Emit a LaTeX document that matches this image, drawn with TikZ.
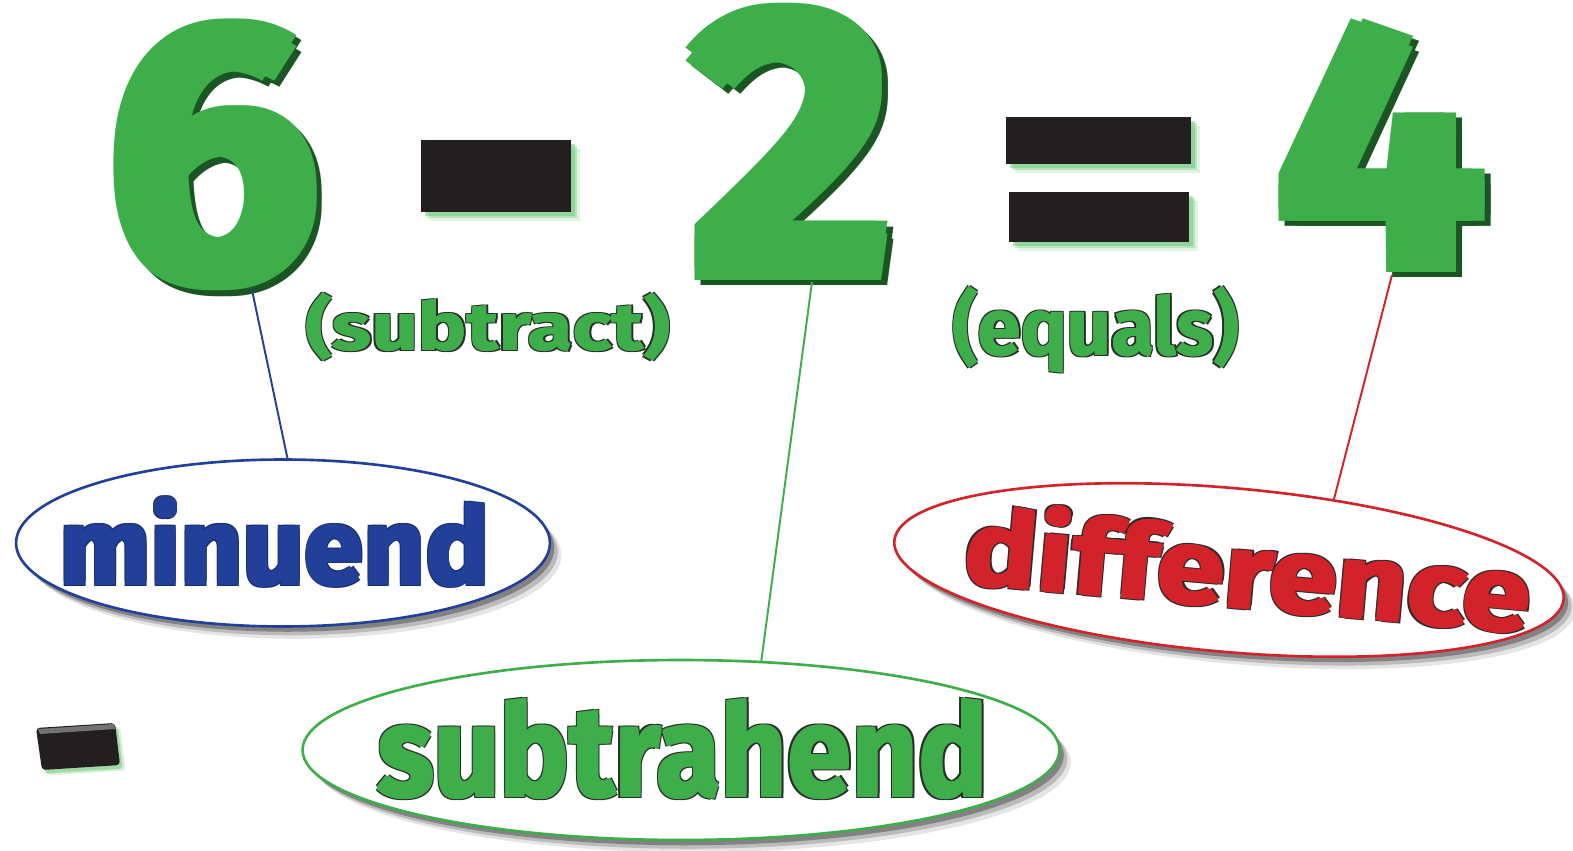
\documentclass[tikz,border=0pt]{standalone}
\usepackage{fontspec}
\setmainfont{Fira Sans}
\usetikzlibrary{shapes.geometric,shadows}
\definecolor{numgreen}{HTML}{3DAE49}
\definecolor{bevelgreen}{HTML}{1C5524}
\definecolor{minblue}{HTML}{22409A}
\definecolor{diffred}{HTML}{D2232A}
\definecolor{barblack}{HTML}{231F20}
\definecolor{glowgreen}{HTML}{6CC878}
\definecolor{inkdark}{HTML}{2B2B2B}

\newlength\ra
\newlength\rb
% place a copy of box0 shifted by (#1,#2) in colour #3
\newcommand\placecopy[3]{\rlap{\color{#3}\kern#1\raise#2\copy0}}
% heavy outlined text: #1 embolden radius, #2 outline width, #3 outline colour, #4 fill colour, #5 text
\newcommand\heavytext[5]{%
  \setbox0=\hbox{#5}%
  \setlength\ra{#1}\setlength\rb{#1}\addtolength\rb{#2}%
  \placecopy{\rb}{\rb}{#3}\placecopy{-\rb}{\rb}{#3}%
  \placecopy{\rb}{-\rb}{#3}\placecopy{-\rb}{-\rb}{#3}%
  \placecopy{\ra}{\ra}{#4}\placecopy{-\ra}{\ra}{#4}%
  \placecopy{\ra}{-\ra}{#4}\placecopy{-\ra}{-\ra}{#4}%
  {\color{#4}\copy0}}
% bevelled digit: emboldened green glyph with a dark edge to the lower right
\newcommand\bevelnum[1]{%
  \setbox0=\hbox{#1}%
  \setlength\ra{.016em}\setlength\rb{.03em}%
  \placecopy{\rb}{-\rb}{bevelgreen}\placecopy{\rb}{0pt}{bevelgreen}%
  \placecopy{0pt}{-\rb}{bevelgreen}%
  \placecopy{\ra}{\ra}{numgreen}\placecopy{-\ra}{\ra}{numgreen}%
  \placecopy{\ra}{-\ra}{numgreen}\placecopy{-\ra}{-\ra}{numgreen}%
  {\color{numgreen}\copy0}}

\begin{document}
\begin{tikzpicture}[x=0.02cm,y=-0.02cm,
  txt/.style={inner sep=0pt,outer sep=0pt,anchor=base},
  bubble/.style={ellipse,fill=white,line width=1.5pt,inner sep=0pt,
    drop shadow={shadow xshift=6.5pt,shadow yshift=-7pt,opacity=.1,fill=black},
    drop shadow={shadow xshift=4.5pt,shadow yshift=-5pt,opacity=.18,fill=black},
    drop shadow={shadow xshift=2.5pt,shadow yshift=-3pt,opacity=.3,fill=black}},
  bar/.style={rectangle,fill=barblack,draw=none,inner sep=0pt,
    drop shadow={shadow xshift=5pt,shadow yshift=-5pt,opacity=.2,fill=glowgreen},
    drop shadow={shadow xshift=3.5pt,shadow yshift=-3.5pt,opacity=.35,fill=glowgreen},
    drop shadow={shadow xshift=2pt,shadow yshift=-2pt,opacity=.5,fill=glowgreen}},
  leader/.style={line width=1.1pt}]
\useasboundingbox (0,0) rectangle (1573,851);
\fill[white] (0,0) rectangle (1573,851);

% operator bars
\node[bar,minimum width=3cm,minimum height=1.44cm] (minus) at (496,176) {};
\node[bar,minimum width=3.7cm,minimum height=0.94cm] (eqtop) at (1098.5,140.5) {};
\node[bar,minimum width=3.6cm,minimum height=1.0cm] (eqbottom) at (1099,217) {};

% stray small minus
\path[fill=barblack,rounded corners=2pt,
  drop shadow={shadow xshift=3pt,shadow yshift=-3pt,opacity=.3,fill=glowgreen},
  drop shadow={shadow xshift=1.5pt,shadow yshift=-2pt,opacity=.5,fill=glowgreen}]
  (36,728) -- (115,723) -- (120,765) -- (42,770) -- cycle;
\fill[black!55] (38,729) -- (114,724) -- (115,729) -- (40,734) -- cycle;

% digits
\node[txt] (six) at (213,279) {\resizebox{4.3cm}{5.2cm}{\bfseries\bevelnum{6}}};
\node[txt] (two) at (792,274) {\resizebox{4.1cm}{5.4cm}{\bfseries\bevelnum{2}}};
\node[txt] (four) at (1381,267) {\resizebox{4.25cm}{4.96cm}{\bfseries\bevelnum{4}}};

% word labels under operators
\node[txt] (subtractlabel) at (488,350) {\resizebox{7.28cm}{1.16cm}{\bfseries\heavytext{.006em}{.018em}{inkdark}{numgreen}{(subtract)}}};
\node[txt] (equalslabel) at (1096,355) {\resizebox{5.72cm}{1.4cm}{\bfseries\heavytext{.006em}{.018em}{inkdark}{numgreen}{(equals)}}};

% bubbles
\node[bubble,draw=minblue,minimum width=10.68cm,minimum height=3.34cm] (minuend) at (283,543) {};
\node[bubble,draw=numgreen,minimum width=15.14cm,minimum height=3.6cm] (subtrahend) at (681,750) {};
\node[bubble,draw=diffred,minimum width=13.44cm,minimum height=3.28cm,rotate=-5] (difference) at (1229,570) {};

\node[txt] (minuendlabel) at (275,584) {\resizebox{8.6cm}{1.76cm}{\bfseries\heavytext{.014em}{.006em}{minblue!70!black}{minblue}{minuend}}};
\node[txt] (subtrahendlabel) at (683,796) {\resizebox{12.2cm}{1.98cm}{\bfseries\heavytext{.012em}{.01em}{inkdark}{numgreen}{subtrahend}}};
\node[txt,rotate=-5] (differencelabel) at (1245,608) {\resizebox{11.35cm}{1.74cm}{\bfseries\heavytext{.012em}{.01em}{inkdark}{diffred}{difference}}};

% leader lines
\coordinate (sixfoot) at (252,290);
\coordinate (twofoot) at (812,282);
\coordinate (fourfoot) at (1392,275);
\draw[leader,minblue] (sixfoot) -- (minuend.87);
\draw[leader,numgreen] (twofoot) -- (subtrahend.48);
\draw[leader,diffred] (fourfoot) -- (difference.39);
\end{tikzpicture}
\end{document}
